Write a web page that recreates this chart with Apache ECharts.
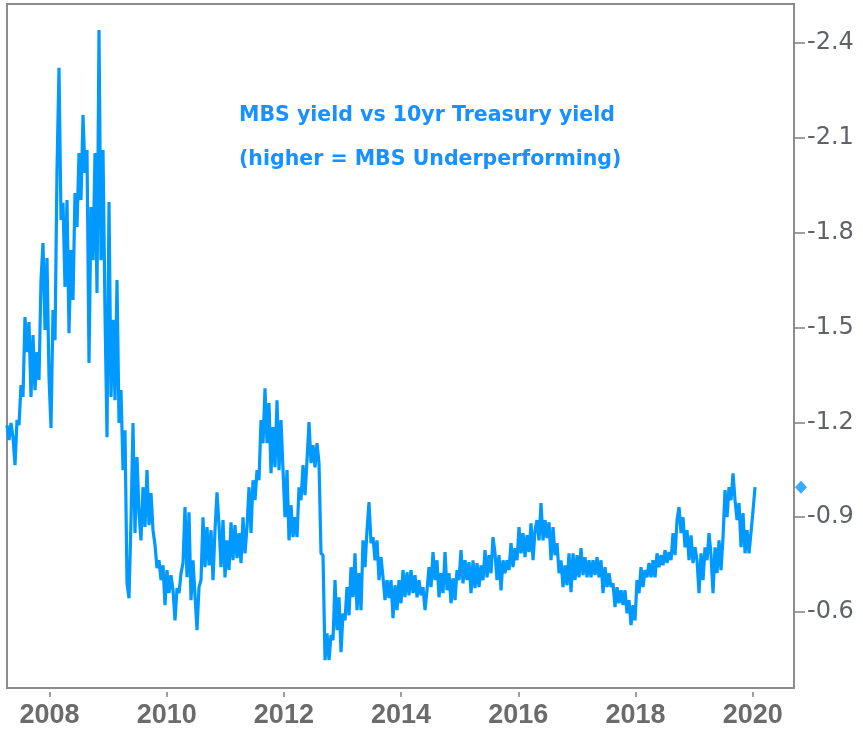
<!DOCTYPE html>
<html>
<head>
<meta charset="utf-8">
<script src="https://cdn.jsdelivr.net/npm/echarts@6/dist/echarts.min.js"></script>
<style>
html,body{margin:0;padding:0;background:#fff;}
#chart{width:863px;height:733px;}
</style>
</head>
<body>
<div id="chart"></div>
<script>
// ---- data (decimal years, MBS yield minus 10yr Treasury yield, %) ----
const startYear = 2007.275;
const endYear = 2020.04;
const spread = [
  -1.191,-1.144,-1.198,-1.153,-1.065,-1.207,-1.191,-1.318,-1.280,-1.533,-1.422,-1.517,-1.280,-1.476,-1.302,
  -1.422,-1.334,-1.650,-1.767,-1.492,-1.720,-1.343,-1.182,-1.555,-1.460,-1.998,-2.321,-1.840,-1.894,-1.628,
  -1.903,-1.482,-1.745,-1.587,-1.925,-1.818,-2.052,-1.903,-2.172,-1.989,-2.061,-1.388,-1.881,-1.713,-2.052,
  -1.609,-2.441,-1.713,-2.061,-1.546,-1.153,-1.897,-1.280,-1.524,-1.270,-1.650,-1.198,-1.302,-1.049,-1.175,
  -0.691,-0.644,-0.891,-1.198,-0.850,-1.090,-0.913,-0.827,-0.995,-0.869,-1.049,-0.875,-0.976,-0.859,-0.812,
  -0.739,-0.764,-0.701,-0.748,-0.622,-0.733,-0.660,-0.717,-0.669,-0.574,-0.676,-0.660,-0.723,-0.755,-0.932,
  -0.710,-0.916,-0.638,-0.764,-0.653,-0.543,-0.679,-0.701,-0.900,-0.742,-0.869,-0.748,-0.859,-0.701,-0.859,
  -0.979,-0.875,-0.742,-0.891,-0.710,-0.827,-0.733,-0.884,-0.764,-0.875,-0.771,-0.850,-0.755,-0.900,-0.786,
  -0.869,-0.995,-0.850,-1.017,-0.954,-1.049,-1.017,-1.207,-1.134,-1.308,-1.134,-1.261,-1.039,-1.185,-1.058,
  -1.270,-1.049,-1.207,-1.049,-0.900,-1.049,-0.827,-0.938,-0.837,-0.900,-0.837,-0.995,-0.954,-1.065,-0.970,
  -1.081,-1.201,-1.071,-1.128,-1.058,-1.134,-1.071,-0.786,-0.780,-0.448,-0.533,-0.448,-0.527,-0.511,-0.701,
  -0.543,-0.647,-0.473,-0.596,-0.574,-0.679,-0.590,-0.742,-0.647,-0.786,-0.606,-0.723,-0.606,-0.827,-0.742,
  -0.859,-0.948,-0.818,-0.837,-0.764,-0.827,-0.701,-0.774,-0.710,-0.638,-0.701,-0.644,-0.701,-0.581,-0.685,
  -0.606,-0.701,-0.628,-0.733,-0.647,-0.726,-0.653,-0.733,-0.660,-0.717,-0.647,-0.701,-0.653,-0.679,-0.606,
  -0.669,-0.742,-0.679,-0.790,-0.701,-0.764,-0.647,-0.723,-0.660,-0.790,-0.669,-0.723,-0.628,-0.707,-0.638,
  -0.733,-0.701,-0.796,-0.691,-0.764,-0.701,-0.758,-0.660,-0.764,-0.676,-0.755,-0.679,-0.748,-0.701,-0.796,
  -0.710,-0.780,-0.723,-0.837,-0.786,-0.701,-0.780,-0.669,-0.764,-0.723,-0.764,-0.733,-0.818,-0.742,-0.802,
  -0.764,-0.869,-0.786,-0.850,-0.774,-0.843,-0.790,-0.881,-0.764,-0.859,-0.891,-0.827,-0.945,-0.827,-0.891,
  -0.834,-0.884,-0.764,-0.869,-0.780,-0.818,-0.723,-0.764,-0.679,-0.748,-0.685,-0.786,-0.663,-0.786,-0.701,
  -0.780,-0.710,-0.802,-0.717,-0.774,-0.710,-0.764,-0.710,-0.764,-0.717,-0.774,-0.710,-0.764,-0.660,-0.742,
  -0.679,-0.723,-0.679,-0.691,-0.616,-0.679,-0.628,-0.669,-0.622,-0.669,-0.596,-0.638,-0.559,-0.622,-0.574,
  -0.701,-0.660,-0.742,-0.679,-0.733,-0.710,-0.755,-0.710,-0.764,-0.710,-0.786,-0.742,-0.780,-0.748,-0.796,
  -0.755,-0.790,-0.764,-0.850,-0.780,-0.891,-0.932,-0.850,-0.900,-0.805,-0.859,-0.764,-0.843,-0.755,-0.805,
  -0.764,-0.660,-0.786,-0.701,-0.805,-0.764,-0.850,-0.780,-0.660,-0.805,-0.723,-0.827,-0.733,-0.837,-0.986,
  -0.900,-0.995,-0.954,-1.039,-0.954,-0.891,-0.945,-0.805,-0.913,-0.786,-0.859,-0.786,-0.853,-0.922,-0.995
];
const xTickYears = [2008, 2010, 2012, 2014, 2016, 2018, 2020];
const yTickValues = [-2.4, -2.1, -1.8, -1.5, -1.2, -0.9, -0.6];
const titleLines = ['MBS yield vs 10yr Treasury yield', '(higher = MBS Underperforming)'];
const xRange = [2007.275, 2020.705];
const yRange = [-2.523, -0.36];

// ---- build ----
const n = spread.length;
const stepYear = (endYear - startYear) / (n - 1);
const seriesData = spread.map((v, i) => [startYear + i * stepYear, v]);
const lastValue = spread[n - 1];

const chart = echarts.init(document.getElementById('chart'), null, {renderer: 'canvas'});
chart.setOption({
  animation: false,
  backgroundColor: '#ffffff',
  title: [
    {text: titleLines[0], left: 234, top: 100,
     textStyle: {color: '#1890ff', fontSize: 20.5, fontWeight: 'bold', fontFamily: 'DejaVu Sans'}},
    {text: titleLines[1], left: 234, top: 144,
     textStyle: {color: '#1890ff', fontSize: 20.5, fontWeight: 'bold', fontFamily: 'DejaVu Sans'}}
  ],
  grid: {left: 7, top: 4, right: 69, bottom: 45, show: true, borderColor: '#8c8c8c', borderWidth: 2, backgroundColor: 'transparent'},
  xAxis: {
    type: 'value', min: xRange[0], max: xRange[1], position: 'bottom', offset: 4,
    axisLine: {show: false},
    splitLine: {show: false},
    axisTick: {show: true, customValues: xTickYears, length: 5, lineStyle: {color: '#808080', width: 1.5}},
    axisLabel: {customValues: xTickYears, formatter: v => String(Math.round(v)), margin: 10,
      fontSize: 27, fontWeight: 'bold', fontFamily: 'Liberation Sans', color: '#6b6b6b'}
  },
  yAxis: {
    type: 'value', position: 'right', inverse: true, min: yRange[0], max: yRange[1],
    axisLine: {show: true, lineStyle: {color: '#8c8c8c', width: 2}},
    splitLine: {show: false},
    axisTick: {show: true, customValues: yTickValues, length: 11, lineStyle: {color: '#808080', width: 1.5}},
    axisLabel: {customValues: yTickValues, formatter: v => v.toFixed(1), margin: 13,
      fontSize: 24, fontFamily: 'DejaVu Sans', color: '#5f6368'}
  },
  series: [
    {type: 'line', data: seriesData, showSymbol: false, symbol: 'none',
     lineStyle: {color: '#0099ff', width: 3.2}, itemStyle: {color: '#0099ff'}, silent: true},
    {type: 'scatter', data: [[xRange[1], lastValue]], symbol: 'diamond', symbolSize: [12, 13],
     symbolOffset: [7, 0], clip: false, itemStyle: {color: '#0099ff'}, silent: true}
  ]
});
</script>
</body>
</html>
